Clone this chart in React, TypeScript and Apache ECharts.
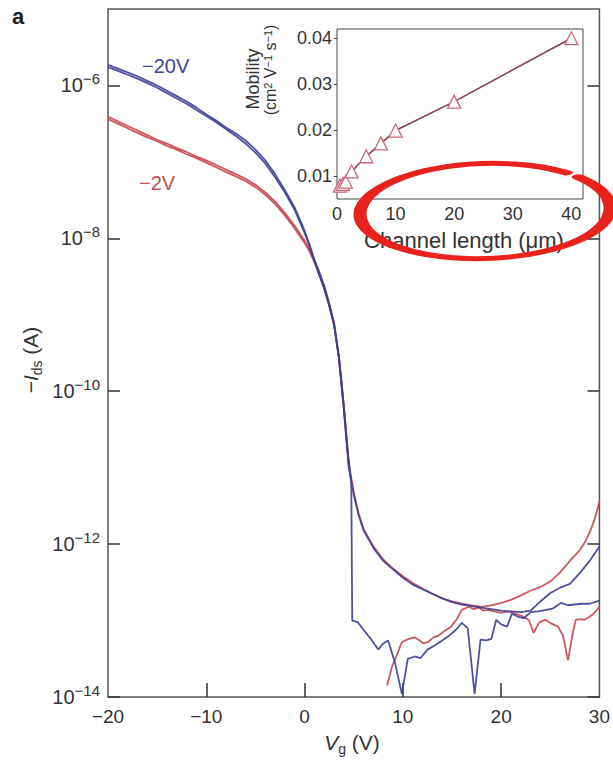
import React, { useEffect, useRef } from 'react';
import * as echarts from 'echarts';

// ---------- Main panel data: gate voltage (V) and log10(-Ids / A) ----------
const vgBlueA = [-20, -19, -18, -17, -16, -15, -14, -13, -12, -11, -10, -9, -8, -7, -6, -5, -4, -3, -2, -1, 0, 0.5, 1, 1.5, 2, 2.5, 3, 3.5, 4, 4.5, 5, 5.5, 6, 7, 8, 9, 10, 11, 12, 13, 14, 15, 16, 17, 18, 19, 20, 21, 22, 23, 24, 25, 26, 27, 28, 29, 30];
const logIBlueA = [-5.73, -5.78, -5.83, -5.88, -5.94, -6.0, -6.07, -6.14, -6.21, -6.29, -6.38, -6.46, -6.55, -6.63, -6.72, -6.84, -6.98, -7.16, -7.37, -7.6, -7.9, -8.08, -8.28, -8.44, -8.62, -8.85, -9.12, -9.58, -10.25, -11.0, -11.35, -11.62, -11.82, -12.05, -12.22, -12.33, -12.44, -12.53, -12.59, -12.65, -12.71, -12.76, -12.79, -12.81, -12.83, -12.85, -12.87, -12.88, -12.89, -12.87, -12.75, -12.64, -12.57, -12.52, -12.38, -12.22, -12.03];

const vgBlueB = [-20, -19, -18, -17, -16, -15, -14, -13, -12, -11, -10, -9, -8, -7, -6, -5, -4, -3, -2, -1, 0, 0.5, 1, 1.5, 2, 2.5, 3, 3.5, 4, 4.4, 4.75, 4.85, 5.4, 6.0, 6.8, 7.5, 8.0, 8.5, 9.2, 9.9, 10.5, 11.2, 11.8, 12.5, 13.2, 14.0, 14.7, 15.4, 16.0, 16.6, 17.3, 17.9, 18.5, 19.0, 19.5, 20.0, 20.6, 21.1, 21.7, 22.3, 23.0, 23.8, 24.6, 25.3, 26.1, 26.8, 27.5, 28.2, 29.0, 30];
const logIBlueB = [-5.76, -5.81, -5.86, -5.91, -5.97, -6.03, -6.1, -6.17, -6.24, -6.32, -6.4, -6.48, -6.57, -6.66, -6.76, -6.88, -7.02, -7.2, -7.4, -7.63, -7.93, -8.1, -8.3, -8.48, -8.66, -8.88, -9.14, -9.55, -10.2, -10.8, -11.2, -13.0, -13.02, -13.12, -13.25, -13.38, -13.3, -13.26, -13.55, -13.96, -13.5, -13.47, -13.49, -13.38, -13.33, -13.26, -13.2, -13.12, -13.03, -13.1, -13.96, -13.25, -13.26, -13.24, -12.99, -13.05, -13.08, -12.91, -12.95, -12.97, -12.89, -12.88, -12.86, -12.84, -12.77, -12.8, -12.79, -12.78, -12.78, -12.74];

const vgRedA = [-20, -19, -18, -17, -16, -15, -14, -13, -12, -11, -10, -9, -8, -7, -6, -5, -4, -3, -2, -1, 0, 0.5, 1, 1.5, 2, 2.5, 3, 3.5, 4, 4.5, 5, 5.5, 6, 7, 8, 9, 10, 11, 12, 13, 14, 15, 16, 17, 18, 19, 20, 21, 22, 23, 24, 25, 26, 27, 28, 28.5, 29, 29.5, 30];
const logIRedA = [-6.41, -6.47, -6.53, -6.59, -6.65, -6.71, -6.76, -6.82, -6.87, -6.93, -6.98, -7.04, -7.1, -7.16, -7.22, -7.3, -7.4, -7.52, -7.67, -7.84, -8.03, -8.14, -8.29, -8.46, -8.64, -8.86, -9.1, -9.55, -10.2, -10.95, -11.32, -11.6, -11.8, -12.03, -12.2, -12.32, -12.42, -12.51, -12.58, -12.65, -12.71, -12.75, -12.78, -12.8, -12.82, -12.8, -12.77, -12.73, -12.67, -12.61, -12.56, -12.49, -12.37, -12.22, -12.08, -11.98, -11.85, -11.68, -11.45];

const vgRedBOn = [-20, -19, -18, -17, -16, -15, -14, -13, -12, -11, -10, -9, -8, -7, -6, -5, -4, -3, -2, -1, 0, 0.5, 1, 1.5, 2, 2.5, 3, 3.5, 4, 4.5];
const logIRedBOn = [-6.44, -6.5, -6.56, -6.62, -6.68, -6.73, -6.79, -6.84, -6.9, -6.95, -7.01, -7.07, -7.13, -7.19, -7.25, -7.33, -7.43, -7.55, -7.7, -7.87, -8.06, -8.17, -8.31, -8.48, -8.66, -8.88, -9.12, -9.57, -10.22, -10.98];
const vgRedBOff = [8.4, 8.9, 9.3, 9.9, 10.6, 11.2, 11.6, 12.1, 12.6, 13.1, 13.6, 14.3, 14.9, 15.5, 16.0, 16.7, 17.2, 17.7, 18.2, 18.7, 19.3, 20.0, 20.7, 21.4, 22.1, 22.8, 23.3, 23.9, 24.5, 25.1, 25.8, 26.3, 26.8, 27.3, 27.6, 28.1, 28.5, 29.0, 29.5, 30];
const logIRedBOff = [-13.85, -13.6, -13.48, -13.28, -13.24, -13.22, -13.25, -13.3, -13.28, -13.22, -13.2, -13.13, -13.08, -12.98, -12.86, -12.82, -12.85, -12.83, -12.87, -12.86, -12.88, -12.9, -12.88, -12.91, -12.94, -12.99, -13.16, -13.02, -12.99, -13.04, -13.08, -13.2, -13.52, -13.15, -12.99, -12.98, -12.99, -12.95, -12.9, -12.82];

const xTickValues = [-20, -10, 0, 10, 20, 30];
const yTickExponents = [-14, -12, -10, -8, -6];

// ---------- Inset data ----------
const channelLength = [0.5, 1, 1.5, 2.5, 5, 7.5, 10, 20, 40];
const mobility = [0.0079, 0.0083, 0.0088, 0.011, 0.0143, 0.0171, 0.0199, 0.0262, 0.04];
const insetXLabels = [0, 10, 20, 30, 40];
const insetXTicks = [5, 10, 15, 20, 25, 30, 35, 40];
const insetYLabels = [0.01, 0.02, 0.03, 0.04];
const insetYTicks = [0.01, 0.015, 0.02, 0.025, 0.03, 0.035, 0.04];

const FONT = '"Liberation Sans", Arial, Helvetica, sans-serif';
const BLUE = '#3b3f95';
const RED = '#c8464e';
const TXT = '#333';

const toPairs = (xs: number[], ls: number[]) => xs.map((x, i) => [x, Math.pow(10, ls[i])]);

export default function App() {
  const ref = useRef<HTMLDivElement>(null);
  useEffect(() => {
    if (!ref.current) return;
    const chart = echarts.init(ref.current, null, { renderer: 'svg' });
    const redBData: any[] = [...toPairs(vgRedBOn, logIRedBOn), [6.5, null], ...toPairs(vgRedBOff, logIRedBOff)];
    const supRich = {
      b: { fontSize: 20, color: TXT, fontFamily: FONT, lineHeight: 28 },
      s: { fontSize: 15, color: TXT, fontFamily: FONT, verticalAlign: 'top', lineHeight: 16 },
    };
    const lineSeries = (name: string, data: any[], color: string) => ({
      type: 'line', name, data, xAxisIndex: 0, yAxisIndex: 0, showSymbol: false, symbol: 'none',
      connectNulls: false, lineStyle: { color, width: 1.8, opacity: 0.9 }, z: 3,
    });
    const noLine = { show: false, onZero: false };
    const option: any = {
      animation: false,
      backgroundColor: '#fff',
      grid: [
        { left: 108, top: 9, right: 12, bottom: 67, show: true, borderColor: '#555', borderWidth: 1.5, backgroundColor: 'transparent' },
        { left: 337, top: 29, width: 246, height: 170, show: true, borderColor: '#444', borderWidth: 1, backgroundColor: '#fff', z: 5 },
      ],
      xAxis: [
        {
          type: 'value', gridIndex: 0, min: -20, max: 30, interval: 10,
          axisLine: noLine,
          axisTick: { inside: true, length: 14, lineStyle: { color: '#333', width: 1.5 }, customValues: [-10, 0, 10, 20] },
          axisLabel: {
            customValues: xTickValues, margin: 10, fontSize: 19, color: TXT, fontFamily: FONT,
            formatter: (v: number) => (v < 0 ? '\u2212' + Math.abs(v) : String(v)),
          },
          splitLine: { show: false },
        },
        {
          type: 'value', gridIndex: 1, min: 0, max: 42,
          axisLine: noLine,
          axisTick: { inside: true, length: 4, lineStyle: { color: '#444' }, customValues: insetXTicks },
          axisLabel: { customValues: insetXLabels, margin: 6, fontSize: 18, color: TXT, fontFamily: FONT },
          splitLine: { show: false },
        },
      ],
      yAxis: [
        {
          type: 'log', logBase: 10, gridIndex: 0, min: 1e-14, max: 1e-5,
          axisLine: noLine,
          axisTick: { inside: true, length: 12, lineStyle: { color: '#333', width: 1.5 }, customValues: yTickExponents.map((e) => Math.pow(10, e)) },
          axisLabel: {
            customValues: yTickExponents.map((e) => Math.pow(10, e)), margin: 8,
            fontSize: 20, color: TXT, fontFamily: FONT,
            formatter: (v: number) => `{b|10}{s|\u2212${Math.abs(Math.round(Math.log10(v)))}}`,
            rich: supRich,
          },
          splitLine: { show: false }, minorTick: { show: false },
        },
        {
          type: 'log', logBase: 10, gridIndex: 0, min: 1e-14, max: 1e-5, position: 'right',
          axisLine: noLine,
          axisTick: { inside: true, length: 12, lineStyle: { color: '#333', width: 1.5 }, customValues: yTickExponents.map((e) => Math.pow(10, e)) },
          axisLabel: { show: false },
          splitLine: { show: false },
        },
        {
          type: 'value', gridIndex: 1, min: 0.005, max: 0.042,
          axisLine: noLine,
          axisTick: { show: true, inside: false, length: 3, lineStyle: { color: '#444' }, customValues: insetYLabels },
          axisLabel: { customValues: insetYLabels, margin: 5, fontSize: 18, color: TXT, fontFamily: FONT, formatter: (v: number) => v.toFixed(2) },
          splitLine: { show: false },
        },
        {
          type: 'value', gridIndex: 1, min: 0.005, max: 0.042, position: 'right',
          axisLine: noLine,
          axisTick: { inside: true, length: 4, lineStyle: { color: '#444' }, customValues: insetYTicks },
          axisLabel: { show: false },
          splitLine: { show: false },
        },
      ],
      series: [
        lineSeries('red A', toPairs(vgRedA, logIRedA), RED),
        lineSeries('red B', redBData, RED),
        lineSeries('blue A', toPairs(vgBlueA, logIBlueA), BLUE),
        lineSeries('blue B', toPairs(vgBlueB, logIBlueB), BLUE),
        {
          type: 'line', name: 'mobility', xAxisIndex: 1, yAxisIndex: 2, z: 10,
          data: channelLength.map((c, i) => [c, mobility[i]]),
          symbol: 'triangle', symbolSize: 13, showSymbol: true,
          lineStyle: { color: '#8a3a4a', width: 1.6 },
          itemStyle: { color: '#fff', borderColor: '#c86a76', borderWidth: 1.3 },
        },
      ],
      graphic: [
        { type: 'text', x: 12, y: 5, z: 50, style: { text: 'a', fontSize: 22, fontWeight: 'bold', fontFamily: FONT, fill: '#222' } },
        { type: 'text', x: 142, y: 66, z: 50, style: { text: '\u221220V', fontSize: 20, fontFamily: FONT, fill: '#3d45a0', verticalAlign: 'middle' } },
        { type: 'text', x: 139, y: 183, z: 50, style: { text: '\u22122V', fontSize: 20, fontFamily: FONT, fill: '#c4504f', verticalAlign: 'middle' } },
        {
          type: 'text', x: 30, y: 360, rotation: Math.PI / 2, z: 50,
          style: {
            text: '\u2212{i|I}{sub|ds} (A)', align: 'center', verticalAlign: 'middle', fontSize: 21, fontFamily: FONT, fill: TXT,
            rich: {
              i: { fontSize: 21, fontStyle: 'italic', fontFamily: FONT, fill: TXT, lineHeight: 28 },
              sub: { fontSize: 14, fontFamily: FONT, fill: TXT, verticalAlign: 'bottom', lineHeight: 15 },
            },
          },
        },
        {
          type: 'text', x: 352, y: 742, z: 50,
          style: {
            text: '{i|V}{sub|g} (V)', align: 'center', verticalAlign: 'middle', fontSize: 21, fontFamily: FONT, fill: TXT,
            rich: {
              i: { fontSize: 21, fontStyle: 'italic', fontFamily: FONT, fill: TXT, lineHeight: 28 },
              sub: { fontSize: 14, fontFamily: FONT, fill: TXT, verticalAlign: 'bottom', lineHeight: 15 },
            },
          },
        },
        {
          type: 'text', x: 253, y: 79, rotation: Math.PI / 2, z: 50,
          style: { text: 'Mobility', align: 'center', verticalAlign: 'middle', fontSize: 18, fontFamily: FONT, fill: TXT },
        },
        {
          type: 'text', x: 270, y: 70, rotation: Math.PI / 2, z: 50,
          style: {
            text: '(cm{s|2} V{s|\u22121} s{s|\u22121})', align: 'center', verticalAlign: 'middle', fontSize: 16, fontFamily: FONT, fill: TXT,
            rich: { s: { fontSize: 11, fontFamily: FONT, fill: TXT, verticalAlign: 'top', lineHeight: 12 } },
          },
        },
        {
          type: 'text', x: 464, y: 240, z: 50,
          style: { text: 'Channel length (\u03bcm)', align: 'center', verticalAlign: 'middle', fontSize: 22, fontFamily: FONT, fill: TXT },
        },
        {
          type: 'arc', x: 485, y: 211, scaleY: 47.5 / 125, rotation: 0.03, z: 100,
          shape: { cx: 0, cy: 0, r: 125, startAngle: -0.72, endAngle: -0.85 + Math.PI * 2, clockwise: true },
          style: { stroke: '#e8231b', lineWidth: 8, fill: null, strokeNoScale: true, lineCap: 'round' },
        },
      ],
    };
    chart.setOption(option);
    return () => chart.dispose();
  }, []);
  return <div ref={ref} style={{ position: 'fixed', left: 0, top: 0, width: 613, height: 764 }} />;
}
